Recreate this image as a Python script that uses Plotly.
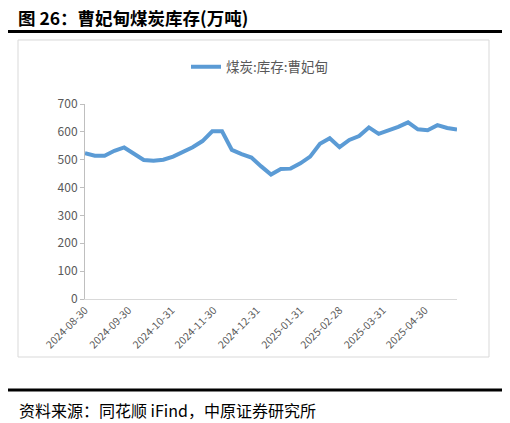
import plotly.graph_objects as go

# weekly coal stock at Caofeidian (10k tonnes)
dates = [
    "2024-08-30", "2024-09-06", "2024-09-13", "2024-09-20", "2024-09-27",
    "2024-10-04", "2024-10-11", "2024-10-18", "2024-10-25", "2024-11-01",
    "2024-11-08", "2024-11-15", "2024-11-22", "2024-11-29", "2024-12-06",
    "2024-12-13", "2024-12-20", "2024-12-27", "2025-01-03", "2025-01-10",
    "2025-01-17", "2025-01-24", "2025-01-31", "2025-02-07", "2025-02-14",
    "2025-02-21", "2025-02-28", "2025-03-07", "2025-03-14", "2025-03-21",
    "2025-03-28", "2025-04-04", "2025-04-11", "2025-04-18", "2025-04-25",
    "2025-05-02", "2025-05-09", "2025-05-16", "2025-05-23",
]
stock = [
    523, 514, 514, 532, 544, 521, 499, 496, 500, 511,
    527, 545, 567, 602, 602, 535, 520, 508, 476, 447,
    467, 468, 487, 511, 557, 577, 545, 571, 585, 616,
    593, 605, 618, 634, 609, 606, 624, 614, 608,
]
tick_vals = ["2024-08-30", "2024-09-30", "2024-10-31", "2024-11-30", "2024-12-31",
             "2025-01-31", "2025-02-28", "2025-03-31", "2025-04-30"]
y_ticks = [0, 100, 200, 300, 400, 500, 600, 700]

# the page puts an 8px margin round the figure, so work in shifted pixels
OFF = 8
W, H = 510 - OFF, 423 - OFF
L, R, T, B = 85 - OFF, 457 - OFF, 104 - OFF, 299 - OFF  # plot area in pixels


def px(x):
    return (x - OFF - L) / (R - L)


def py(y):
    return (B - (y - OFF)) / (B - T)


fig = go.Figure()
fig.add_trace(go.Scatter(
    x=dates, y=stock, mode="lines", name="煤炭:库存:曹妃甸",
    line=dict(color="#5B9BD5", width=4),
))

fig.update_layout(
    width=W, height=H,
    margin=dict(l=L, r=W - R, t=T, b=H - B),
    paper_bgcolor="white", plot_bgcolor="white",
    font=dict(family="Noto Sans CJK SC, Noto Sans, sans-serif", color="#595959"),
    showlegend=True,
    legend=dict(orientation="h", x=px(260), xanchor="center", y=py(67), yanchor="middle",
                font=dict(size=13.5, color="#595959"), bgcolor="rgba(0,0,0,0)"),
    xaxis=dict(type="date", range=[dates[0], dates[-1]],
               tickvals=tick_vals, ticktext=tick_vals, tickangle=-45,
               tickfont=dict(size=10.5, color="#595959"),
               showgrid=False, showline=True, linecolor="#D9D9D9", linewidth=1,
               ticks="", zeroline=False),
    yaxis=dict(range=[0, 700], tickvals=y_ticks,
               tickfont=dict(size=12, color="#595959"),
               showgrid=False, showline=True, linecolor="#BFBFBF", linewidth=1,
               ticks="outside", ticklen=4, tickcolor="#BFBFBF", zeroline=False),
)

# frame and rules around the chart
fig.add_shape(type="rect", xref="paper", yref="paper",
              x0=px(18), x1=px(489), y0=py(357), y1=py(40),
              line=dict(color="#D9D9D9", width=1), layer="below")
fig.add_shape(type="line", xref="paper", yref="paper",
              x0=px(5), x1=px(505), y0=py(31.5), y1=py(31.5),
              line=dict(color="black", width=3))
fig.add_shape(type="line", xref="paper", yref="paper",
              x0=px(5), x1=px(505), y0=py(390), y1=py(390),
              line=dict(color="black", width=3))

fig.add_annotation(text="<b>图 26：曹妃甸煤炭库存(万吨)</b>", xref="paper", yref="paper",
                   x=px(17), y=py(17), xanchor="left", yanchor="middle", showarrow=False,
                   borderpad=0, font=dict(size=17.5, color="black"))
fig.add_annotation(text="资料来源：同花顺 iFind，中原证券研究所", xref="paper", yref="paper",
                   x=px(17), y=py(410), xanchor="left", yanchor="middle", showarrow=False,
                   font=dict(size=16, color="black"))

fig.write_html("out.html")
